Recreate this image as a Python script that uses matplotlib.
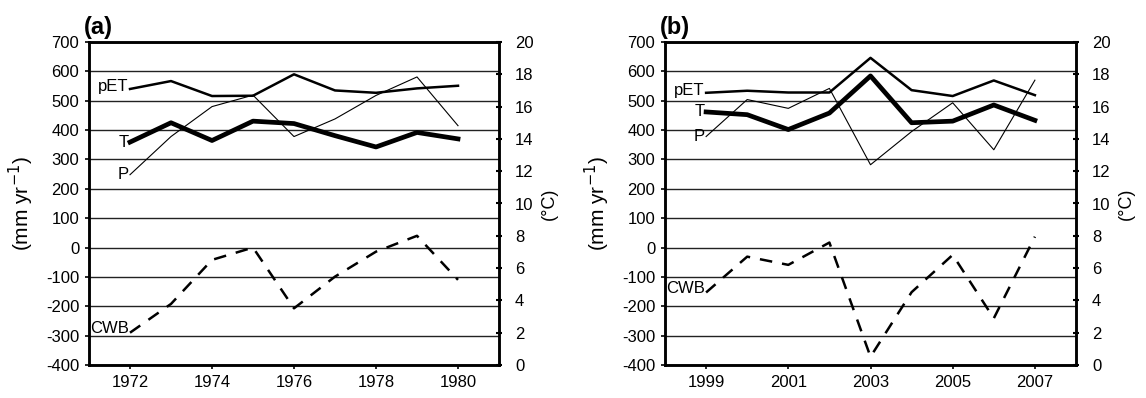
import matplotlib
matplotlib.use("Agg")
import matplotlib.pyplot as plt

plt.rcParams["font.family"] = ["Liberation Sans", "DejaVu Sans"]
plt.rcParams["font.size"] = 12
plt.rcParams["axes.unicode_minus"] = False

# Panel (a) data
years_a = [1972, 1973, 1974, 1975, 1976, 1977, 1978, 1979, 1980]
pet_a = [540, 567, 516, 517, 590, 535, 527, 542, 551]
p_a = [248, 378, 480, 519, 378, 438, 518, 581, 415]
t_a = [13.8, 15.0, 13.9, 15.1, 14.95, 14.2, 13.5, 14.4, 14.0]
cwb_a = [-290, -192, -42, 0, -207, -99, -14, 40, -110]
xticks_a = [1972, 1974, 1976, 1978, 1980]

# Panel (b) data
years_b = [1999, 2000, 2001, 2002, 2003, 2004, 2005, 2006, 2007]
pet_b = [527, 534, 528, 528, 646, 536, 516, 569, 519]
p_b = [378, 504, 474, 542, 282, 395, 493, 333, 570]
t_b = [15.67, 15.5, 14.58, 15.6, 17.9, 15.0, 15.1, 16.1, 15.15]
cwb_b = [-153, -31, -59, 17, -372, -152, -25, -241, 37]
xticks_b = [1999, 2001, 2003, 2005, 2007]

W, H = 1146, 398
fig = plt.figure(figsize=(W / 100, H / 100), dpi=100)


def panel(left_px, right_px, years, pet, p, t, cwb, xticks, title):
    top_px, bot_px = 42, 365
    ax = fig.add_axes([left_px / W, 1 - bot_px / H,
                       (right_px - left_px) / W, (bot_px - top_px) / H])
    ax2 = ax.twinx()

    ax.set_xlim(years[0] - 1, years[-1] + 1)
    ax.set_ylim(-400, 700)
    ax.set_yticks(range(-400, 701, 100))
    ax.set_xticks(xticks)
    ax.grid(axis="y", color="#222222", linewidth=1.0)
    ax.set_axisbelow(True)

    ax.plot(years, pet, color="black", linewidth=1.8)
    ax.plot(years, p, color="black", linewidth=0.8)
    ax.plot(years, cwb, color="black", linewidth=1.8, dashes=(5, 4))
    ax2.plot(years, t, color="black", linewidth=3.4)

    ax2.set_ylim(0, 20)
    ax2.set_yticks(range(0, 21, 2))

    for a in (ax, ax2):
        for s in a.spines.values():
            s.set_linewidth(1.8)
            s.set_color("black")
    ax.tick_params(axis="both", length=3, width=1.2, pad=4, labelsize=12)
    ax2.tick_params(axis="y", direction="inout", length=5, width=1.5,
                    pad=9, labelsize=12)

    # axis titles placed by pixel position
    cy = 1 - (top_px + bot_px) / 2 / H
    fig.text((left_px - 68) / W, cy, "(mm yr$^{-1}$)", fontsize=15,
             rotation=90, ha="center", va="center")
    fig.text((right_px + 50) / W, cy, "(°C)", fontsize=13,
             rotation=90, ha="center", va="center")

    ax.annotate("pET", (years[0], pet[0]), xytext=(-1, 2),
                textcoords="offset points", ha="right", va="center")
    ax2.annotate("T", (years[0], t[0]), xytext=(-1, 0),
                 textcoords="offset points", ha="right", va="center")
    ax.annotate("P", (years[0], p[0]), xytext=(-1, 0),
                textcoords="offset points", ha="right", va="center")
    ax.annotate("CWB", (years[0], cwb[0]), xytext=(-1, 3),
                textcoords="offset points", ha="right", va="center")

    fig.text((left_px - 5) / W, 1 - 34 / H, title, fontsize=17,
             fontweight="bold", ha="left", va="baseline")


panel(89, 499, years_a, pet_a, p_a, t_a, cwb_a, xticks_a, "(a)")
panel(665, 1076, years_b, pet_b, p_b, t_b, cwb_b, xticks_b, "(b)")

fig.savefig("out.png", dpi=100)
